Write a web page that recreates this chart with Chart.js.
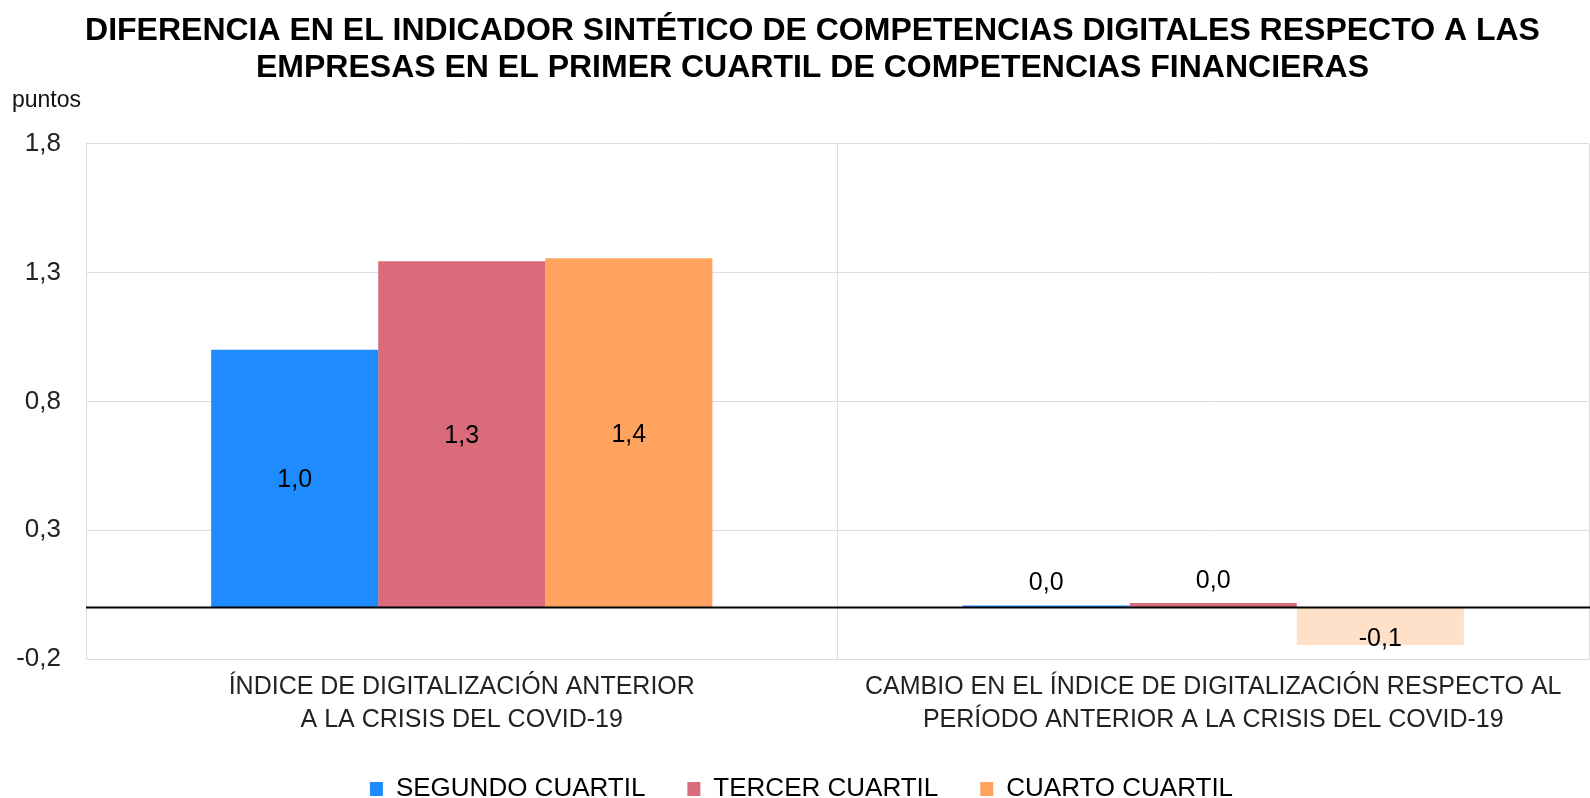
<!DOCTYPE html>
<html><head><meta charset="utf-8">
<script src="https://cdn.jsdelivr.net/npm/chart.js@4/dist/chart.umd.min.js"></script>
<style>html,body{margin:0;padding:0;background:#fff;overflow:hidden}</style>
</head><body>
<canvas id="c" width="1590" height="798"></canvas>
<script>
const titleLines = ["DIFERENCIA EN EL INDICADOR SINTÉTICO DE COMPETENCIAS DIGITALES RESPECTO A LAS", "EMPRESAS EN EL PRIMER CUARTIL DE COMPETENCIAS FINANCIERAS"];
const unitLabel = "puntos";
const categories = [
  ["ÍNDICE DE DIGITALIZACIÓN ANTERIOR", "A LA CRISIS DEL COVID-19"],
  ["CAMBIO EN EL ÍNDICE DE DIGITALIZACIÓN RESPECTO AL", "PERÍODO ANTERIOR A LA CRISIS DEL COVID-19"]
];
const seriesNames = ["SEGUNDO CUARTIL", "TERCER CUARTIL", "CUARTO CUARTIL"];
const segundo = [1.001, 0.008];
const tercero = [1.344, 0.017];
const cuarto = [1.356, -0.146];
const yTicks = [-0.2, 0.3, 0.8, 1.3, 1.8];

const FONT = "'Liberation Sans', Arial, Helvetica, sans-serif";
const fmt = v => (Math.round(v * 10) / 10).toFixed(1).replace('.', ',').replace(/^-0,0$/, '0,0');

const zeroLine = {
  id: 'zeroLine',
  afterDatasetsDraw(chart) {
    const {ctx, chartArea, scales} = chart;
    const y = scales.y.getPixelForValue(0);
    ctx.save();
    ctx.strokeStyle = '#000';
    ctx.lineWidth = 2;
    ctx.beginPath();
    ctx.moveTo(chartArea.left, y);
    ctx.lineTo(chartArea.right + 1, y);
    ctx.stroke();
    ctx.restore();
  }
};

const valueLabels = {
  id: 'valueLabels',
  afterDraw(chart) {
    const {ctx} = chart;
    ctx.save();
    ctx.font = `25px ${FONT}`;
    ctx.fillStyle = '#000';
    ctx.textAlign = 'center';
    ctx.textBaseline = 'middle';
    chart.data.datasets.forEach((ds, i) => {
      const meta = chart.getDatasetMeta(i);
      meta.data.forEach((bar, j) => {
        const v = ds.data[j];
        const h = Math.abs(bar.base - bar.y);
        let y;
        if (h > 60) y = (bar.y + bar.base) / 2 + 2;
        else if (v >= 0) y = bar.y - 22;
        else y = bar.y - 6;
        ctx.fillText(fmt(v), bar.x, y);
      });
    });
    ctx.restore();
  }
};

const unitText = {
  id: 'unitText',
  afterDraw(chart) {
    const {ctx} = chart;
    ctx.save();
    ctx.font = `23px ${FONT}`;
    ctx.fillStyle = '#111';
    ctx.textAlign = 'left';
    ctx.textBaseline = 'middle';
    ctx.fillText(unitLabel, 12, 101);
    ctx.restore();
  }
};

const shiftBoxes = {
  id: 'shiftBoxes',
  afterLayout(chart) {
    if (chart.titleBlock) chart.titleBlock.left += 36;
    if (chart.legend) { chart.legend.left += 7; chart.legend.right += 7; }
  }
};

new Chart(document.getElementById('c'), {
  type: 'bar',
  data: {
    labels: categories,
    datasets: [
      {label: seriesNames[0], data: segundo, backgroundColor: ['#1E8CFF', '#1E8CFF']},
      {label: seriesNames[1], data: tercero, backgroundColor: ['#D96B7A', '#D96B7A']},
      {label: seriesNames[2], data: cuarto, backgroundColor: ['#FFA35E', '#FFE0C8']}
    ]
  },
  options: {
    responsive: false,
    animation: false,
    devicePixelRatio: 1,
    categoryPercentage: 0.667,
    barPercentage: 1.0,
    layout: {padding: {left: 0, right: 1, top: 0, bottom: -14}},
    plugins: {
      title: {
        display: true,
        text: titleLines,
        color: '#000',
        font: {family: FONT, size: 32, weight: 'bold', lineHeight: 1.17},
        padding: {top: 12, bottom: 57}
      },
      legend: {
        display: true,
        position: 'bottom',
        labels: {
          color: '#000',
          font: {family: FONT, size: 26},
          boxWidth: 13,
          boxHeight: 14,
          padding: 42,
          generateLabels(chart) {
            return chart.data.datasets.map((ds, i) => ({
              text: ds.label,
              fillStyle: ds.backgroundColor[0],
              strokeStyle: ds.backgroundColor[0],
              lineWidth: 0,
              datasetIndex: i,
              fontColor: '#000'
            }));
          }
        }
      },
      tooltip: {enabled: false}
    },
    scales: {
      x: {
        afterFit(scale) { scale.height = 75; },
        grid: {color: '#dddddd', lineWidth: 1, drawTicks: false, tickLength: 0},
        border: {color: '#dddddd'},
        ticks: {color: '#222', font: {family: FONT, size: 25, lineHeight: 1.3}, padding: 12, maxRotation: 0, autoSkip: false}
      },
      y: {
        min: yTicks[0],
        max: yTicks[yTicks.length - 1],
        afterBuildTicks(scale) { scale.ticks = yTicks.map(v => ({value: v})); },
        afterFit(scale) { scale.width = 86; },
        grid: {color: '#dddddd', lineWidth: 1, drawTicks: false, tickLength: 0},
        border: {color: '#dddddd'},
        ticks: {color: '#222', font: {family: FONT, size: 26}, padding: 25, callback: v => fmt(v)}
      }
    }
  },
  plugins: [zeroLine, valueLabels, unitText, shiftBoxes]
});
</script>
</body></html>
